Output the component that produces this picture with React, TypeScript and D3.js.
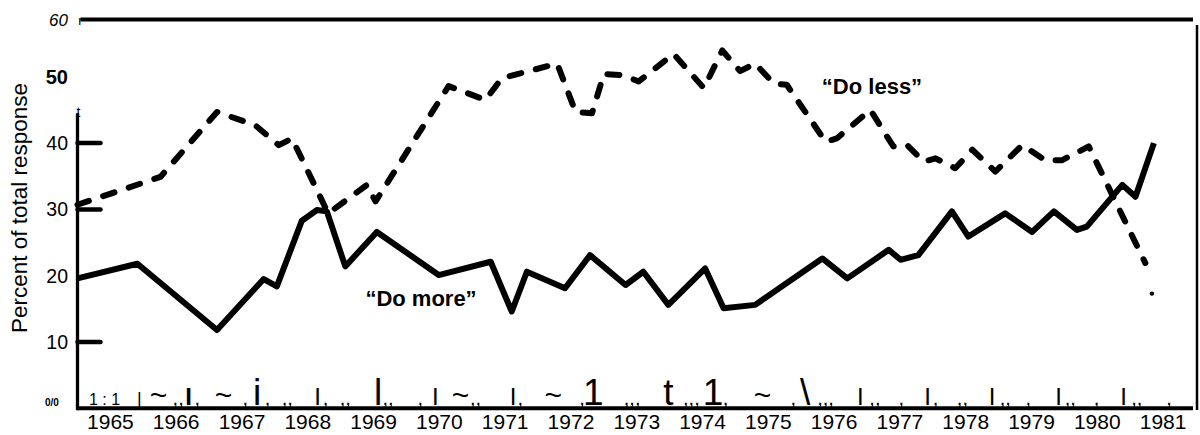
import * as d3 from 'd3';

// "Do more" (solid) — positions read as fractional years
const doMoreYears = [1965.0, 1965.91, 1967.12, 1967.83, 1968.03, 1968.41, 1968.64, 1968.79, 1969.07, 1969.55, 1970.49, 1971.28, 1971.6, 1971.83, 1972.41, 1972.79, 1973.33, 1973.6, 1973.98, 1974.54, 1974.82, 1975.3, 1976.32, 1976.7, 1977.33, 1977.51, 1977.78, 1978.29, 1978.54, 1979.1, 1979.51, 1979.84, 1980.19, 1980.34, 1980.88, 1981.08, 1981.36];
const doMoreValues = [19.6, 21.8, 11.8, 19.5, 18.4, 28.3, 29.9, 29.7, 21.4, 26.6, 20.1, 22.1, 14.6, 20.6, 18.1, 23.1, 18.6, 20.6, 15.6, 21.1, 15.1, 15.6, 22.6, 19.6, 23.9, 22.4, 23.1, 29.7, 25.9, 29.4, 26.6, 29.7, 26.9, 27.4, 33.7, 31.9, 40.0];

// "Do less" (dashed)
const doLessYears = [1965.0, 1966.26, 1967.12, 1967.7, 1968.06, 1968.26, 1968.81, 1969.4, 1969.53, 1970.64, 1971.2, 1971.45, 1972.29, 1972.57, 1972.82, 1973.0, 1973.28, 1973.53, 1974.06, 1974.52, 1974.8, 1975.07, 1975.3, 1975.58, 1975.78, 1976.37, 1976.54, 1977.05, 1977.4, 1977.61, 1977.86, 1978.04, 1978.34, 1978.6, 1978.95, 1979.36, 1979.71, 1979.96, 1980.37, 1981.23];
const doLessValues = [30.7, 34.9, 44.7, 42.7, 39.7, 40.7, 29.4, 33.7, 31.2, 48.6, 46.5, 49.8, 52.3, 44.7, 44.5, 50.5, 50.3, 49.3, 54.0, 48.3, 54.6, 51.0, 52.3, 49.0, 48.8, 40.2, 40.7, 45.0, 39.5, 39.7, 37.2, 37.7, 36.2, 39.0, 35.7, 39.7, 37.4, 37.4, 39.5, 21.9];
const strayDot = { year: 1981.33, value: 17.3 };

const yearLabels = d3.range(1965, 1982);
const yLabels = [10, 20, 30, 40, 50, 60];
const yTickMarks = [10, 30, 40];

// scanned tick-row debris along the x axis
const axisGlyphYears = [1965.41, 1965.94, 1966.23, 1966.53, 1966.69, 1966.82, 1967.22, 1967.55, 1967.73, 1967.89, 1968.19, 1968.65, 1968.77, 1969.07, 1969.57, 1969.72, 1970.21, 1970.44, 1970.82, 1971.05, 1971.62, 1971.73, 1972.23, 1972.67, 1972.84, 1973.43, 1973.98, 1974.33, 1974.66, 1974.85, 1975.41, 1975.88, 1976.06, 1976.37, 1976.9, 1977.12, 1977.52, 1977.92, 1978.04, 1978.45, 1978.9, 1979.1, 1979.45, 1979.91, 1980.09, 1980.49, 1980.9, 1981.1, 1981.59];
const axisGlyphs = ['1 : 1', '|', '~', ',,', 'I', ',', '~', ',', 'i', ',', ',,', 'I', ',', ',,', 'l', ',,', ',', 'I', '~', ',,', 'I', ',', '~', ',', '1', ',,,', 't', ',,,', '1', ',', '~', ',', '\\', ',,,', 'I', ',,', ',', 'I', ',', ',,', 'I', ',,', ',', 'I', ',,', ',', 'I', ',,', ','];

const W = 1200;
const H = 435;
const FONT = 'Liberation Sans, Arial, Helvetica, sans-serif';

const glyphSize = (g: string) => {
    if (g === '1 : 1') return 16;
    if (g === '|') return 18;
    if (g === 'I') return 24;
    if (g === '~') return 30;
    if (g.startsWith(',')) return 20;
    return 37; // l, i, 1, t, backslash
}

const App = () => {
    const x = d3.scaleLinear().domain([1965, 1982]).range([77.5, 1196]);
    // scan isn't quite linear at the top, so a three-stop scale
    const y = d3.scaleLinear().domain([0, 50, 60]).range([408.3, 76.8, 19.5]);

    const moreData = doMoreYears.map((t, i) => [t, doMoreValues[i]] as [number, number]);
    const lessData = doLessYears.map((t, i) => [t, doLessValues[i]] as [number, number]);

    const line = d3.line<[number, number]>()
        .x(d => x(d[0]))
        .y(d => y(d[1]));

    const x0 = x(1965);

    const labelStyle = (v: number) => {
        if (v === 60) return { fontStyle: 'italic', fontWeight: 'normal', fontSize: 17 };
        if (v === 50) return { fontStyle: 'normal', fontWeight: 'bold', fontSize: 20 };
        return { fontStyle: 'normal', fontWeight: 'normal', fontSize: 19.5 };
    }

    return (
        <svg width={W} height={H} style={{ position: 'absolute', left: 0, top: 0, background: '#fff' }} fontFamily={FONT}>
            {/* frame */}
            <line x1={x0 + 3} x2={1193} y1={y(60)} y2={y(60)} stroke="#000" strokeWidth={4} />
            <line x1={1197} x2={1197} y1={25} y2={410} stroke="#000" strokeWidth={2.5} />
            <line x1={x0} x2={1193} y1={y(0)} y2={y(0)} stroke="#000" strokeWidth={4} />
            <line x1={x0} x2={x0} y1={y(0) + 2} y2={y(44.5)} stroke="#000" strokeWidth={3.3} />
            <text x={x0 + 1} y={117} textAnchor="middle" fontSize={14}>t</text>
            <text x={x0 + 3} y={y(60) + 5} textAnchor="middle" fontSize={13}>r</text>

            {/* y ticks + labels */}
            {yTickMarks.map(v => (
                <line key={v} x1={x0} x2={x0 + 23} y1={y(v)} y2={y(v)} stroke="#000" strokeWidth={4.5} strokeLinecap="round" />
            ))}
            {yLabels.map(v => {
                const s = labelStyle(v);
                return (
                    <text key={v} x={68} y={y(v)} dy="0.36em" textAnchor="end"
                        fontSize={s.fontSize} fontStyle={s.fontStyle} fontWeight={s.fontWeight}>{v}</text>
                )
            })}
            <text x={45} y={406} fontSize={10} fontWeight="bold">0/0</text>

            <text transform={`translate(27,${208}) rotate(-90)`} textAnchor="middle" fontSize={22.5}>Percent of total response</text>

            {/* x axis junk row and year labels */}
            {axisGlyphs.map((g, i) => (
                <text key={i} x={x(axisGlyphYears[i])} y={405} textAnchor="middle"
                    fontSize={glyphSize(g)} fontWeight={i === 4 ? 'bold' : 'normal'}
                    style={{ whiteSpace: 'pre' }}>{g}</text>
            ))}
            {yearLabels.map(yr => (
                <text key={yr} x={x(yr + 0.5)} y={429} textAnchor="middle" fontSize={21}>{yr}</text>
            ))}

            {/* series */}
            <path d={line(lessData) ?? ''} fill="none" stroke="#000" strokeWidth={6}
                strokeDasharray="12 15" strokeLinecap="round" strokeLinejoin="round" />
            <path d={line(moreData) ?? ''} fill="none" stroke="#000" strokeWidth={6}
                strokeLinejoin="round" />
            <circle cx={x(strayDot.year)} cy={y(strayDot.value)} r={2.2} fill="#000" />

            <text x={421} y={306} textAnchor="middle" fontSize={22} fontWeight="bold">“Do more”</text>
            <text x={872} y={94} textAnchor="middle" fontSize={22} fontWeight="bold">“Do less”</text>
        </svg>
    )
}

export default App
